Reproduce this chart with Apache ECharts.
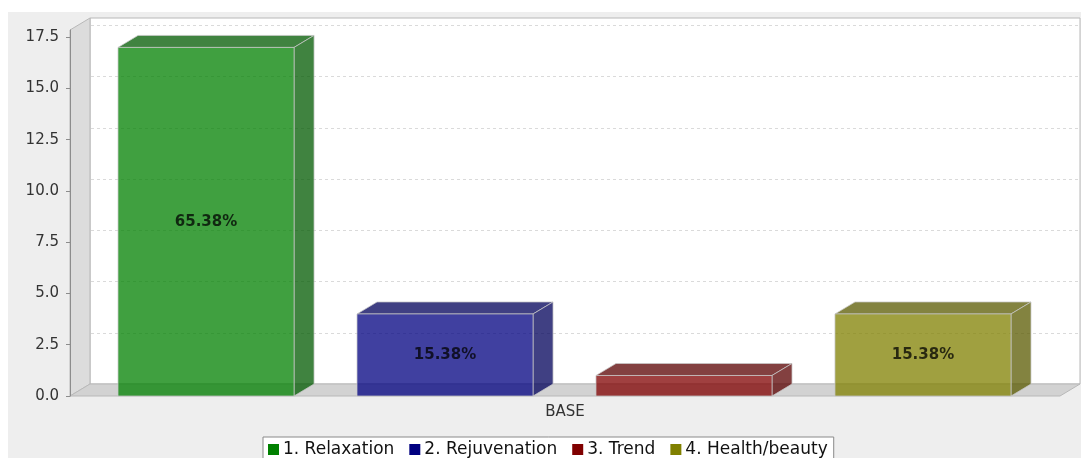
<!DOCTYPE html>
<html>
<head>
<meta charset="utf-8">
<script src="https://cdn.jsdelivr.net/npm/echarts@6/dist/echarts.min.js"></script>
<style>
  html, body { margin: 0; padding: 0; background: #ffffff; }
  #bg { position: absolute; left: 8px; top: 12px; width: 1073px; height: 446px; background: #eeeeee; }
  #chart { position: absolute; left: 0; top: 0; width: 1081px; height: 458px; }
</style>
</head>
<body>
<div id="bg"></div>
<div id="chart"></div>
<script>
// ---- data ----
const categories = ['BASE'];
const seriesNames = ['1. Relaxation', '2. Rejuvenation', '3. Trend', '4. Health/beauty'];
const seriesValues = [17, 4, 1, 4];
const barLabels = ['65.38%', '15.38%', '', '15.38%'];
const yTickValues = [0, 2.5, 5, 7.5, 10, 12.5, 15, 17.5];
const yAxisMax = 17.85;

// ---- styles / layout ----
const seriesColors = ['#008000', '#000080', '#800000', '#808000'];
const DX = 20, DY = 12;
const BAND_MARGIN = 0.0485, BAR_FRAC = 0.1778, GAP_FRAC = 0.0636;
const FONT = '"DejaVu Sans", sans-serif';
const ALPHA = 0.75;

function darker(hex) {
  const n = parseInt(hex.slice(1), 16);
  const r = Math.floor(((n >> 16) & 255) * 0.7);
  const g = Math.floor(((n >> 8) & 255) * 0.7);
  const b = Math.floor((n & 255) * 0.7);
  return 'rgb(' + r + ',' + g + ',' + b + ')';
}

function renderWalls(params, api) {
  const cs = params.coordSys;
  const x = cs.x, y = cs.y, w = cs.width, h = cs.height;
  const children = [];
  children.push({ type: 'rect', shape: { x: x + DX, y: y - DY, width: w, height: h },
    style: { fill: '#ffffff', stroke: '#b8b8b8', lineWidth: 1 } });
  children.push({ type: 'polygon', shape: { points: [[x, y], [x + DX, y - DY], [x + DX, y + h - DY], [x, y + h]] },
    style: { fill: '#dcdcdc', stroke: '#b8b8b8', lineWidth: 1 } });
  children.push({ type: 'polygon', shape: { points: [[x, y + h], [x + DX, y + h - DY], [x + w + DX, y + h - DY], [x + w, y + h]] },
    style: { fill: '#d2d2d2', stroke: '#b8b8b8', lineWidth: 1 } });
  yTickValues.forEach(function (v) {
    if (v === 0) return;
    const py = Math.round(api.coord([0, v])[1] - DY) + 0.5;
    children.push({ type: 'line', shape: { x1: x + DX + 1, y1: py, x2: x + w + DX - 1, y2: py },
      style: { stroke: '#dadada', lineDash: [3, 3], lineWidth: 1 } });
  });
  return { type: 'group', children: children };
}

function makeBarRenderer(i) {
  return function (params, api) {
    const band = api.size([1, 0])[0];
    const top = api.coord([api.value(0), api.value(1)]);
    const base = api.coord([api.value(0), 0]);
    const bandStart = top[0] - band / 2;
    const L = bandStart + band * (BAND_MARGIN + i * (BAR_FRAC + GAP_FRAC));
    const W = band * BAR_FRAC;
    const yT = top[1], y0 = base[1];
    const col = seriesColors[i], dk = darker(seriesColors[i]);
    const edge = '#c8c8c8';
    const children = [
      { type: 'polygon', shape: { points: [[L, yT], [L + DX, yT - DY], [L + W + DX, yT - DY], [L + W, yT]] },
        style: { fill: dk, opacity: ALPHA, stroke: edge, lineWidth: 1 } },
      { type: 'polygon', shape: { points: [[L + W, yT], [L + W + DX, yT - DY], [L + W + DX, y0 - DY], [L + W, y0]] },
        style: { fill: dk, opacity: ALPHA, stroke: edge, lineWidth: 1 } },
      { type: 'rect', shape: { x: L, y: yT, width: W, height: y0 - yT },
        style: { fill: col, opacity: ALPHA, stroke: edge, lineWidth: 1 } }
    ];
    if (barLabels[i]) {
      children.push({ type: 'text', style: { text: barLabels[i], x: L + W / 2, y: (yT + y0) / 2,
        align: 'center', verticalAlign: 'middle', font: 'bold 15px ' + FONT, fill: '#000000', opacity: ALPHA } });
    }
    return { type: 'group', children: children };
  };
}

const series = [{
  type: 'custom', name: '__walls', coordinateSystem: 'cartesian2d', silent: true, z: 1,
  data: [[0, 0]], encode: { x: 0, y: 1 }, renderItem: renderWalls
}];
seriesNames.forEach(function (name, i) {
  series.push({
    type: 'custom', name: name, coordinateSystem: 'cartesian2d', silent: true, z: 3,
    itemStyle: { color: seriesColors[i] },
    data: [[0, seriesValues[i]]], encode: { x: 0, y: 1 },
    renderItem: makeBarRenderer(i)
  });
});

const chart = echarts.init(document.getElementById('chart'), null, { renderer: 'canvas' });
chart.setOption({
  animation: false,
  backgroundColor: 'transparent',
  grid: { left: 70, right: 21, top: 30, bottom: 62, containLabel: false },
  xAxis: {
    type: 'category', data: categories, boundaryGap: true,
    axisLine: { show: false }, axisTick: { show: false }, splitLine: { show: false },
    axisLabel: { color: '#333333', fontFamily: FONT, fontSize: 15, margin: 9 }
  },
  yAxis: {
    type: 'value', min: 0, max: yAxisMax, z: 5,
    axisLine: { show: true, lineStyle: { color: '#8c8c8c' } },
    axisTick: { show: true, length: 4, customValues: yTickValues, lineStyle: { color: '#8c8c8c' } },
    axisLabel: { customValues: yTickValues, color: '#333333', fontFamily: FONT, fontSize: 15, margin: 11,
      formatter: function (v) { return Number(v).toFixed(1); } },
    splitLine: { show: false }
  },
  legend: {
    data: seriesNames, left: 263, top: 437, orient: 'horizontal',
    icon: 'rect', itemWidth: 11, itemHeight: 11, itemGap: 15,
    padding: [4, 6, 5, 5], borderColor: '#8a8a8a', borderWidth: 1, backgroundColor: '#ffffff',
    textStyle: { color: '#111111', fontFamily: FONT, fontSize: 17, padding: [0, 0, 0, -1] },
    selectedMode: false
  },
  series: series
});
</script>
</body>
</html>
